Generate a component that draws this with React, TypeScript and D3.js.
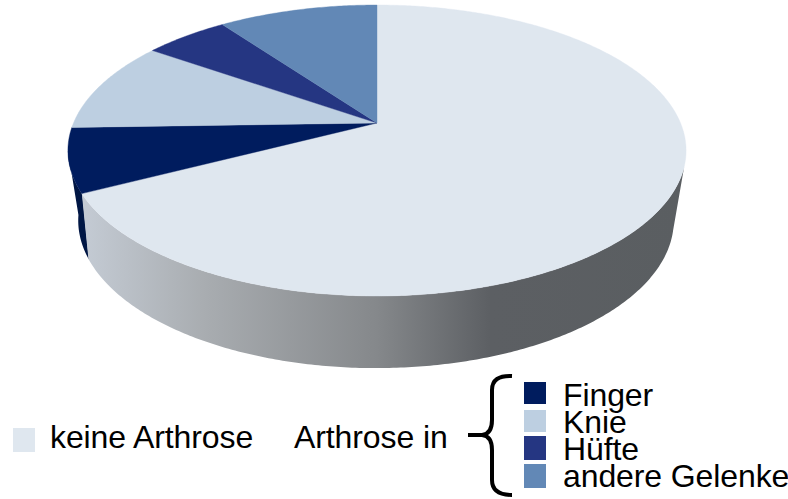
import React from "react";
import * as d3 from "d3";

// Shares of people by arthrosis site, in percent
const categories = ["keine Arthrose", "Finger", "Knie", "Hüfte", "andere Gelenke"];
const shares = [67.4, 7.1, 10.2, 5.3, 10.0];
const faceColors = ["#dfe7ef", "#001c5e", "#bdcfe1", "#253682", "#6288b6"];
const wallColor = "#001644";
const wallStops: [number, string][] = [
  [0, "#c4cbd4"],
  [0.2, "#a9adb1"],
  [0.49, "#85888b"],
  [0.68, "#5c5f63"],
  [1, "#5a5e61"],
];
const legendItems = categories.slice(1);
const legendBaselines = [406, 433, 460, 487];
const legendSwatchTops = [382, 410, 436, 464];
const legendSwatchHeights = [22, 22, 24, 24];

const W = 788;
const H = 499;
const FONT = "'Liberation Sans', Arial, sans-serif";

// Perspective tilt of the disc: the near edge is drawn larger than the far edge
const project = (cx: number, cy: number, a: number, b: number, k: number) => (t: number): [number, number] => {
  const u = Math.sin(t);
  const v = -Math.cos(t);
  const w = 1 - k * v;
  return [cx + (a * u) / w, cy + (b * v) / w];
};
const centre: [number, number] = [377, 123];
const top = project(centre[0], centre[1], 303.5, 140.3, 0.189);
const base = project(376, 187, 290, 140, 0.227);

const pie = d3.pie<number>().sort(null).startAngle(0).endAngle(2 * Math.PI);
const arcs = pie(shares);
const line = d3.line();

const sweep = (a: number, b: number) => {
  const n = Math.max(2, Math.ceil(Math.abs(b - a) / 0.01));
  return d3.range(n + 1).map((i) => a + ((b - a) * i) / n);
};

// Side wall between two angles: along the top rim, back along the lower rim
const wallPath = (a: number, b: number) =>
  line([...sweep(a, b).map(top), ...sweep(b, a).map(base)]) + "Z";

const facePath = (a: number, b: number) =>
  line([centre, ...sweep(a, b).map(top)]) + "Z";

const rad = (deg: number) => (deg * Math.PI) / 180;
const wallStart = rad(107);
const wallEnd = rad(259);

export default function App() {
  const noneEnd = arcs[0].endAngle;
  const textProps = { fontFamily: FONT, fontSize: 32, letterSpacing: -0.1, fill: "#000" };
  return (
    <svg
      width={W}
      height={H}
      viewBox={`0 0 ${W} ${H}`}
      style={{ position: "absolute", left: 0, top: 0, background: "#fff" }}
    >
      <defs>
        <linearGradient id="wall" gradientUnits="userSpaceOnUse" x1={82} x2={684} y1={0} y2={0}>
          {wallStops.map(([o, c]) => (
            <stop key={o} offset={o} stopColor={c} />
          ))}
        </linearGradient>
      </defs>

      <path d={wallPath(noneEnd - 0.005, wallEnd)} fill={wallColor} />
      <path d={wallPath(wallStart, noneEnd)} fill="url(#wall)" />

      {arcs.map((d, i) => (
        <path
          key={categories[i]}
          d={facePath(d.startAngle, d.endAngle)}
          fill={faceColors[i]}
          stroke={faceColors[i]}
          strokeWidth={0.4}
        />
      ))}

      <rect x={13} y={428} width={22} height={24} fill={faceColors[0]} />
      <text x={50} y={448} {...textProps}>
        {categories[0]}
      </text>
      <text x={294} y={448} {...textProps}>
        Arthrose in
      </text>

      {/* Curly brace grouping the affected joints */}
      <path
        d="M512,376 Q492,375 492,390 V420 Q492,434 482,435 H468 H482 Q492,436 492,450 V480 Q492,495 512,495"
        fill="none"
        stroke="#000"
        strokeWidth={4}
      />

      {legendItems.map((name, i) => (
        <g key={name}>
          <rect
            x={524}
            y={legendSwatchTops[i]}
            width={22}
            height={legendSwatchHeights[i]}
            fill={faceColors[i + 1]}
          />
          <text x={563} y={legendBaselines[i]} {...textProps}>
            {name}
          </text>
        </g>
      ))}
    </svg>
  );
}
